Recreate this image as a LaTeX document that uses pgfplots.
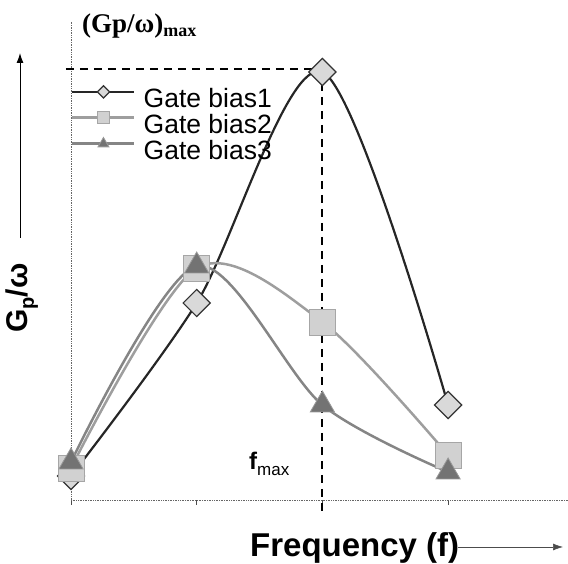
\documentclass[border=0pt]{standalone}
\usepackage{pgfplots}
\pgfplotsset{compat=1.18}
\usepackage{fontspec}
\setmainfont{Liberation Sans}
\newfontfamily\serifb{Liberation Serif}
\usetikzlibrary{arrows.meta}

\begin{document}
\begin{tikzpicture}
\path[use as bounding box] (0pt,0pt) rectangle (568pt,564pt);
\begin{axis}[
    at={(71pt,64pt)}, anchor=origin,
    scale only axis, width=497pt, height=478pt,
    xmin=0, xmax=3.954, ymin=0, ymax=478,
    axis x line=bottom, axis y line=left,
    axis line style={-, black!60, densely dotted, line width=0.7pt},
    xtick={0,1,2,3}, xticklabels={}, ytick=\empty,
    tick align=outside, major tick length=5pt,
    x tick style={black!70, solid, line width=0.7pt},
    clip=false,
    legend style={
        at={(0.0,0.867)}, anchor=north west,
        draw=none, fill=none, inner sep=0pt,
        font=\fontsize{26.5}{26.5}\selectfont,
        row sep=2.5pt, column sep=8pt,
        nodes={inner sep=0pt},
    },
    legend cell align=left,
    legend image code/.code={
        \draw[#1, mark repeat=2, mark phase=2,
              every mark/.append style={scale=0.45}]
            plot coordinates {(0pt,7pt) (31pt,7pt) (62pt,7pt)};
    },
]

% Gate bias1
\addplot[smooth, tension=0.5, color=black!85, line width=2.2pt,
    mark=square*, mark size=9.6pt,
    mark options={rotate=45, fill=black!15, draw=black!80, line width=1.2pt}]
    coordinates {(0,24) (1,197) (2,428) (3,95)};
\addlegendentry{Gate bias1}

% Gate bias2
\addplot[smooth, tension=0.5, color=black!38, line width=2.5pt,
    mark=square*, mark size=13pt,
    mark options={fill=black!18, draw=black!35, line width=0.8pt}]
    coordinates {(0,32) (1,232) (2,178) (3,45)};
\addlegendentry{Gate bias2}

% Gate bias3
\addplot[smooth, tension=0.5, color=black!48, line width=2.5pt,
    mark=triangle*, mark size=14pt,
    mark options={fill=black!55, draw=black!40, line width=0.8pt}]
    coordinates {(0,38) (1,234) (2,95) (3,28)};
\addlegendentry{Gate bias3}

% max markers
\draw[black, line width=1.8pt, dash pattern=on 8pt off 6pt]
    (axis cs:-0.04,431) -- (axis cs:2,431);
\draw[black, line width=1.8pt, dash pattern=on 8pt off 6pt]
    (axis cs:2,431) -- (axis cs:2,-13);
\end{axis}

\draw[black, line width=1pt, -{Latex[length=10pt,width=7pt]}]
    (20pt,326pt) -- (20pt,511pt);
\draw[black!70, line width=0.6pt, -{Latex[length=10pt,width=7pt]}]
    (458pt,17pt) -- (563pt,17pt);

\node[rotate=90, inner sep=0pt, font=\fontsize{30}{30}\selectfont\bfseries]
    at (22pt,266pt) {G\raisebox{-6pt}{\fontsize{20}{20}\selectfont p}/ω};
\node[anchor=base west, inner sep=0pt, font=\fontsize{33}{33}\selectfont\bfseries]
    at (250pt,7pt) {Frequency (f)};
\node[anchor=base west, inner sep=0pt, font=\serifb\bfseries\fontsize{27}{27}\selectfont]
    at (82pt,531pt) {(Gp/ω)\raisebox{-4pt}{\fontsize{18}{18}\selectfont max}};
\node[anchor=base west, inner sep=0pt, font=\fontsize{24}{24}\selectfont\bfseries]
    at (249pt,94pt) {f\raisebox{-6pt}{\fontsize{17}{17}\selectfont\mdseries max}};
\end{tikzpicture}
\end{document}
